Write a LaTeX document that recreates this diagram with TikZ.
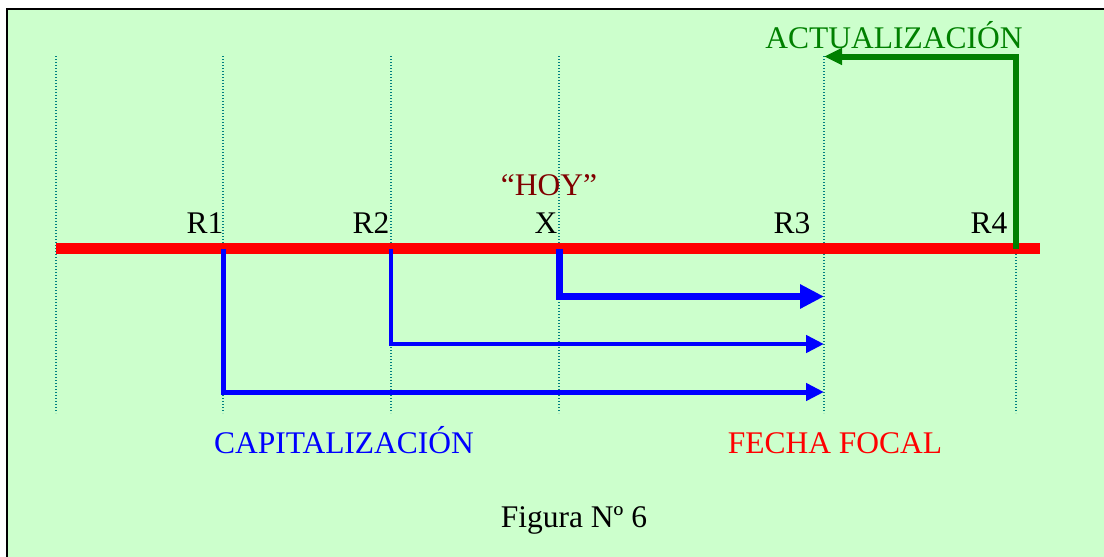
\documentclass[tikz,border=0pt]{standalone}
\usepackage{fontspec}
\setmainfont{Liberation Serif}
\usetikzlibrary{arrows.meta}
\definecolor{bgg}{HTML}{CCFFCC}
\definecolor{gridc}{HTML}{008080}
\definecolor{hoyc}{HTML}{800000}
\definecolor{dgreen}{HTML}{008000}
\begin{document}
\begin{tikzpicture}[x=1pt,y=-1pt,
  lbl/.style={font=\fontsize{31.5}{36}\selectfont, anchor=base, inner sep=0pt},
  gridline/.style={gridc, line width=1.3pt, dash pattern=on 1.3pt off 1.7pt},
  flow/.style={blue, line join=miter, line cap=butt},
  upd/.style={dgreen, line width=6pt, line join=miter}]
\useasboundingbox (0,0) rectangle (1104,557);
\fill[white] (0,0) rectangle (1104,557);
\fill[bgg] (7,9) rectangle (1104,557);
\draw[black, line width=2pt] (7,557) -- (7,9) -- (1104,9);
% grid columns
\foreach \xx/\nm in {56/g0,223/g1,391/g2,559/g3,824/g4,1016/g5}{
  \coordinate (\nm t) at (\xx,56);
  \coordinate (\nm b) at (\xx,413);
  \draw[gridline] (\nm t) -- (\nm b);
}
% time line
\coordinate (lineL) at (56,248.5);
\coordinate (lineR) at (1040,248.5);
\draw[red, line width=11.5pt] (lineL) -- (lineR);
\coordinate (p1) at (223,248.5);
\coordinate (p2) at (391,248.5);
\coordinate (px) at (559,248.5);
\coordinate (p3) at (824,248.5);
\coordinate (p4) at (1016,248.5);
% labels
\node[lbl] (R1) at (205,233) {R1};
\node[lbl] (R2) at (371,233) {R2};
\node[lbl] (X) at (546,233) {X};
\node[lbl] (R3) at (792,233) {R3};
\node[lbl] (R4) at (989,233) {R4};
\node[lbl, text=hoyc] (hoy) at (549,195) {“HOY”};
\node[lbl, text=dgreen] (act) at (894,48) {ACTUALIZACIÓN};
\node[lbl, text=blue] (cap) at (344,453) {CAPITALIZACIÓN};
\node[lbl, text=red] (ff) at (835,453) {FECHA FOCAL};
\node[lbl] (fig) at (574,527) {Figura Nº 6};
% capitalization arrows
\coordinate (a1) at (824,392);
\coordinate (a2) at (824,344);
\coordinate (a3) at (824,296.5);
\draw[flow, line width=5pt, -{Triangle[length=18pt,width=17pt]}] (p1) |- (a1);
\draw[flow, line width=4.5pt, -{Triangle[length=18pt,width=17pt]}] (p2) |- (a2);
\draw[flow, line width=7pt, -{Triangle[length=24pt,width=23pt]}] (px) |- (a3);
% actualization arrow
\coordinate (u) at (824,56.5);
\draw[upd, -{Triangle[length=18pt,width=16pt]}] (p4) |- (u);
\end{tikzpicture}
\end{document}
